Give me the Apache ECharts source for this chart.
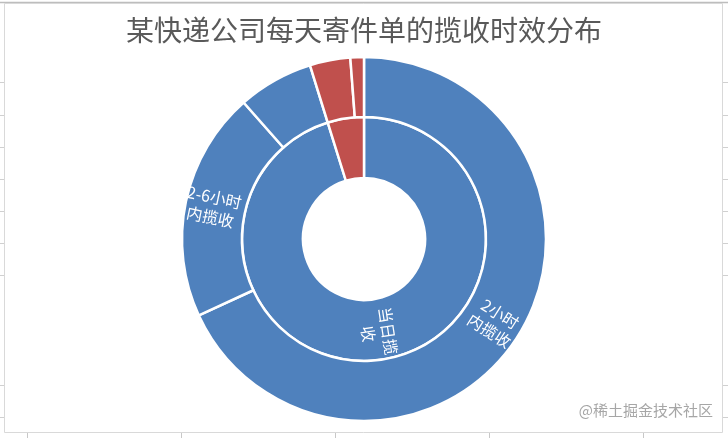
<!DOCTYPE html>
<html>
<head>
<meta charset="utf-8">
<script src="https://cdn.jsdelivr.net/npm/echarts@6/dist/echarts.min.js"></script>
<style>
html,body{margin:0;padding:0;background:#fff;}
#chart{width:728px;height:438px;}
</style>
</head>
<body>
<div id="chart"></div>
<script>
// ---- data ----
const titleText = '某快递公司每天寄件单的揽收时效分布';
const innerNames = ['当日揽收', '次日揽收'];
const innerValues = [95.2, 4.8];
const innerLabels = ['当日揽\n收', ''];
const outerNames = ['2小时内揽收', '2-6小时内揽收', '6小时以上当日揽收', '次日上午揽收', '次日下午揽收'];
const outerValues = [68.1, 20.4, 6.7, 3.6, 1.2];
const outerLabels = ['2小时\n内揽收', '2-6小时\n内揽收', '', '', ''];
const innerColors = ['#4F81BD', '#C0504D'];
const outerColors = ['#4F81BD', '#4F81BD', '#4F81BD', '#C0504D', '#C0504D'];

const FONT = '"Noto Sans CJK SC", "Noto Sans", sans-serif';

function buildData(names, values, labels, colors) {
  return names.map((n, i) => ({
    name: n,
    value: values[i],
    itemStyle: { color: colors[i] },
    label: { show: labels[i] !== '', formatter: labels[i] || ' ' }
  }));
}

// decorative frame (spreadsheet look)
const deco = [];
deco.push({ type: 'line', shape: { x1: 0, y1: 2.5, x2: 728, y2: 2.5 }, style: { stroke: '#bdbdbd', lineWidth: 1.5 } });
deco.push({ type: 'rect', shape: { x: 4.5, y: 3.5, width: 718, height: 429 }, style: { fill: 'none', stroke: '#d9d9d9', lineWidth: 1 } });
[82, 115, 147, 179, 211, 243, 275, 385, 417].forEach(y => {
  deco.push({ type: 'line', shape: { x1: 0, y1: y + 0.5, x2: 4, y2: y + 0.5 }, style: { stroke: '#d0d0d0', lineWidth: 1 } });
  deco.push({ type: 'line', shape: { x1: 723, y1: y + 0.5, x2: 728, y2: y + 0.5 }, style: { stroke: '#d0d0d0', lineWidth: 1 } });
});
[27, 181, 335, 489, 643].forEach(x => {
  deco.push({ type: 'line', shape: { x1: x + 0.5, y1: 433, x2: x + 0.5, y2: 438 }, style: { stroke: '#c8c8c8', lineWidth: 1 } });
});
deco.push({ type: 'text', right: 15, top: 403, style: { text: '@稀土掘金技术社区', fill: '#a6a6a6', font: '15px ' + FONT } });

const chart = echarts.init(document.getElementById('chart'), null, { renderer: 'canvas' });
chart.setOption({
  backgroundColor: '#ffffff',
  animation: false,
  title: {
    text: titleText,
    left: 'center',
    top: 11,
    textStyle: { fontFamily: FONT, fontSize: 28, fontWeight: 'normal', color: '#595959' }
  },
  graphic: deco,
  series: [
    {
      type: 'pie',
      center: [364, 239],
      radius: [61, 122],
      startAngle: 90,
      clockwise: true,
      avoidLabelOverlap: false,
      itemStyle: { borderColor: '#ffffff', borderWidth: 2.5 },
      label: { position: 'inside', rotate: true, color: '#ffffff', fontFamily: FONT, fontSize: 16, lineHeight: 20 },
      labelLine: { show: false },
      emphasis: { disabled: true },
      data: buildData(innerNames, innerValues, innerLabels, innerColors)
    },
    {
      type: 'pie',
      center: [364, 239],
      radius: [122, 182],
      startAngle: 90,
      clockwise: true,
      avoidLabelOverlap: false,
      itemStyle: { borderColor: '#ffffff', borderWidth: 2.5 },
      label: { position: 'inside', rotate: true, color: '#ffffff', fontFamily: FONT, fontSize: 16, lineHeight: 20 },
      labelLine: { show: false },
      emphasis: { disabled: true },
      data: buildData(outerNames, outerValues, outerLabels, outerColors)
    }
  ]
});
</script>
</body>
</html>
